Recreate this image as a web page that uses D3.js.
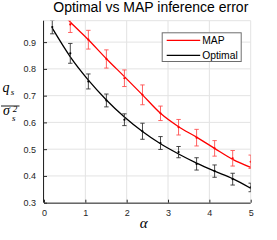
<!DOCTYPE html>
<html>
<head>
<meta charset="utf-8">
<script src="https://cdn.jsdelivr.net/npm/d3@7"></script>
<style>
  body { margin: 0; background: #fff; }
  svg { display: block; }
  .tick text { font-family: "Liberation Sans", Arial, sans-serif; font-size: 9px; fill: #262626; }
</style>
</head>
<body>
<script>
// sample points along alpha
var alpha = [0.2, 0.636, 1.073, 1.509, 1.945, 2.382, 2.818, 3.255, 3.691, 4.127, 4.564, 5.0];

// Optimal: theory curve + simulated mean / error
var optimalTheory = [0.952, 0.845, 0.758, 0.684, 0.620, 0.566, 0.520, 0.482, 0.448, 0.418, 0.390, 0.354];
var optimalMean   = [0.956, 0.858, 0.753, 0.682, 0.610, 0.567, 0.523, 0.489, 0.445, 0.418, 0.388, 0.357];
var optimalErr    = [0.025, 0.037, 0.028, 0.024, 0.022, 0.030, 0.024, 0.021, 0.023, 0.023, 0.022, 0.016];

// MAP: theory curve + simulated mean / error (first point is off the top)
var mapTheory = [1.05, 0.975, 0.909, 0.838, 0.771, 0.703, 0.634, 0.584, 0.545, 0.503, 0.462, 0.432];
var mapMean   = [null, 0.966, 0.909, 0.837, 0.765, 0.703, 0.634, 0.582, 0.543, 0.503, 0.466, 0.453];
var mapErr    = [null, 0.030, 0.035, 0.034, 0.031, 0.037, 0.027, 0.029, 0.031, 0.029, 0.029, 0.025];

var xTicks = [0, 1, 2, 3, 4, 5];
var yTicks = [0.3, 0.4, 0.5, 0.6, 0.7, 0.8, 0.9];

var series = [
  {name: "MAP", color: "#ff0000", bar: "#ff5050", theory: mapTheory, mean: mapMean, err: mapErr},
  {name: "Optimal", color: "#000000", bar: "#333333", theory: optimalTheory, mean: optimalMean, err: optimalErr}
];

var W = 277, H = 240;
var margin = {top: 20.7, right: 26.3, bottom: 37.3, left: 44},
    width = W - margin.left - margin.right,
    height = H - margin.top - margin.bottom;

var x = d3.scaleLinear().domain([0, 5]).range([0, width]);
var y = d3.scaleLinear().domain([0.3, 0.98]).range([height, 0]);

var svg = d3.select("body").append("svg")
    .attr("width", W)
    .attr("height", H);

var g = svg.append("g")
    .attr("transform", "translate(" + margin.left + "," + margin.top + ")");

g.append("clipPath").attr("id", "clip")
  .append("rect").attr("width", width).attr("height", height);

// grid
g.append("g").selectAll("line").data(xTicks).enter().append("line")
  .attr("x1", function(d) { return x(d); }).attr("x2", function(d) { return x(d); })
  .attr("y1", 0).attr("y2", height)
  .attr("stroke", "#e3e3e3").attr("stroke-width", 1);
g.append("g").selectAll("line").data(yTicks).enter().append("line")
  .attr("y1", function(d) { return y(d); }).attr("y2", function(d) { return y(d); })
  .attr("x1", 0).attr("x2", width)
  .attr("stroke", "#e3e3e3").attr("stroke-width", 1);
// top edge
g.append("line").attr("x1", 0).attr("x2", width).attr("y1", 0).attr("y2", 0)
  .attr("stroke", "#e3e3e3");

// axes
var xAxis = d3.axisBottom(x).tickValues(xTicks).tickSize(-3).tickPadding(7).tickFormat(d3.format("d"));
var yAxis = d3.axisLeft(y).tickValues(yTicks).tickSize(-3).tickPadding(8).tickFormat(d3.format(".1f"));

g.append("g")
  .attr("transform", "translate(0," + height + ")")
  .call(xAxis)
  .call(function(a) { a.select(".domain").attr("stroke", "#262626").attr("d", "M0,0.5H" + width); })
  .selectAll(".tick line").attr("stroke", "#262626");

g.append("g")
  .call(yAxis)
  .call(function(a) { a.select(".domain").attr("stroke", "#262626").attr("d", "M-0.5,0V" + height); })
  .selectAll(".tick line").attr("stroke", "#262626");

// curves and error bars
var plot = g.append("g").attr("clip-path", "url(#clip)");

var line = d3.line()
  .x(function(d) { return x(d[0]); })
  .y(function(d) { return y(d[1]); })
  .curve(d3.curveMonotoneX);

series.forEach(function(s) {
  plot.append("path")
    .datum(alpha.map(function(a, i) { return [a, s.theory[i]]; }))
    .attr("fill", "none")
    .attr("stroke", s.color)
    .attr("stroke-width", 1.3)
    .attr("d", line);

  var pts = alpha.map(function(a, i) { return {a: a, m: s.mean[i], e: s.err[i]}; })
    .filter(function(d) { return d.m != null; });

  var eb = plot.append("g").selectAll("g").data(pts).enter().append("g");
  eb.append("line")
    .attr("x1", function(d) { return x(d.a); }).attr("x2", function(d) { return x(d.a); })
    .attr("y1", function(d) { return y(d.m - d.e); }).attr("y2", function(d) { return y(d.m + d.e); })
    .attr("stroke", s.bar).attr("stroke-width", 0.9);
  [-1, 1].forEach(function(sign) {
    eb.append("line")
      .attr("x1", function(d) { return x(d.a) - 2.2; }).attr("x2", function(d) { return x(d.a) + 2.2; })
      .attr("y1", function(d) { return y(d.m + sign * d.e); }).attr("y2", function(d) { return y(d.m + sign * d.e); })
      .attr("stroke", s.bar).attr("stroke-width", 0.9);
  });
  eb.append("circle")
    .attr("cx", function(d) { return x(d.a); })
    .attr("cy", function(d) { return y(d.m); })
    .attr("r", 1.1)
    .attr("fill", s.color);
});

// legend
var leg = svg.append("g").attr("transform", "translate(161.7,32.3)");
leg.append("rect")
  .attr("x", 0.5).attr("y", 0.5).attr("width", 79).attr("height", 28.7)
  .attr("fill", "#fff").attr("stroke", "#6e6e6e").attr("stroke-width", 1);
series.forEach(function(s, i) {
  var ly = 8 + i * 15;
  leg.append("line")
    .attr("x1", 5).attr("x2", 38.5).attr("y1", ly).attr("y2", ly)
    .attr("stroke", s.color).attr("stroke-width", 1.3);
  leg.append("text")
    .attr("x", 40.5).attr("y", ly + 3.5)
    .style("font-family", "Liberation Sans, Arial, sans-serif")
    .style("font-size", "10.3px")
    .attr("fill", "#000")
    .text(s.name);
});

// title
svg.append("text")
  .attr("x", 150.8).attr("y", 12)
  .attr("text-anchor", "middle")
  .style("font-family", "Liberation Sans, Arial, sans-serif")
  .style("font-size", "14px")
  .attr("fill", "#000")
  .text("Optimal vs MAP inference error");

// x label
svg.append("text")
  .attr("x", 143.7).attr("y", 227.5)
  .attr("text-anchor", "middle")
  .style("font-family", "Liberation Serif, serif")
  .style("font-style", "italic")
  .style("font-size", "15px")
  .attr("fill", "#000")
  .text("α");

// y label: q_s / sigma_s^2
var yl = svg.append("g")
  .style("font-family", "Liberation Serif, serif")
  .style("font-style", "italic")
  .attr("fill", "#000");
yl.append("text").attr("x", 2.5).attr("y", 92).style("font-size", "14px").text("q");
yl.append("text").attr("x", 10.8).attr("y", 94.5).style("font-size", "9px").text("s");
yl.append("line").attr("x1", 1).attr("x2", 19.5).attr("y1", 106).attr("y2", 106)
  .attr("stroke", "#000").attr("stroke-width", 0.9);
yl.append("text").attr("x", 3).attr("y", 115.3).style("font-size", "14px").text("σ");
yl.append("text").attr("x", 12.7).attr("y", 112).style("font-size", "9px").text("2");
yl.append("text").attr("x", 12).attr("y", 120.5).style("font-size", "9px").text("s");
</script>
</body>
</html>
